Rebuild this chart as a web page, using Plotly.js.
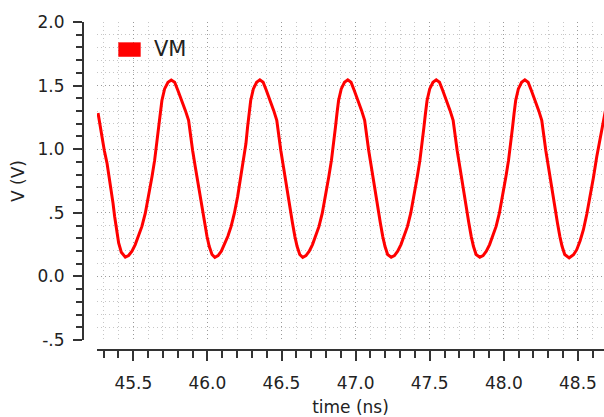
<!DOCTYPE html>
<html><head><meta charset="utf-8">
<script src="https://cdn.plot.ly/plotly-3.0.1.min.js"></script>
<style>html,body{margin:0;padding:0;background:#fff}#chart{width:604px;height:417px}</style>
</head><body><div id="chart"></div>
<script>
const time = [
  45.262,45.277,45.293,45.304,45.323,45.338,45.352,45.363,45.374,45.385,45.401,45.419,
  45.446,45.468,45.491,45.513,45.536,45.558,45.581,45.603,45.626,45.644,45.660,45.671,45.682,45.693,45.711,45.734,
  45.756,45.779,45.801,45.828,45.851,45.873,45.884,45.900,45.918,45.936,45.952,45.967,45.981,45.997,46.012,46.031,
  46.050,46.072,46.094,46.116,46.138,46.160,46.182,46.204,46.226,46.244,46.260,46.271,46.281,46.292,46.310,46.332,
  46.354,46.376,46.398,46.424,46.447,46.468,46.479,46.495,46.513,46.530,46.546,46.561,46.574,46.590,46.605,46.623,
  46.643,46.665,46.687,46.709,46.731,46.753,46.775,46.797,46.819,46.837,46.853,46.864,46.874,46.885,46.903,46.925,
  46.947,46.969,46.991,47.017,47.040,47.061,47.072,47.088,47.106,47.123,47.139,47.154,47.167,47.183,47.198,47.216,
  47.240,47.262,47.284,47.306,47.328,47.350,47.372,47.394,47.416,47.434,47.450,47.461,47.471,47.482,47.500,47.522,
  47.544,47.566,47.588,47.614,47.637,47.658,47.669,47.685,47.703,47.720,47.736,47.751,47.764,47.780,47.795,47.813,
  47.838,47.860,47.882,47.904,47.926,47.948,47.970,47.992,48.014,48.032,48.048,48.059,48.069,48.080,48.098,48.120,
  48.142,48.164,48.186,48.212,48.235,48.256,48.267,48.283,48.301,48.318,48.334,48.349,48.362,48.378,48.393,48.411,
  48.441,48.470,48.492,48.515,48.537,48.560,48.582,48.605,48.627,48.650,48.671,48.685
];
const vm = [
  1.284,1.174,1.083,0.992,0.888,0.784,0.680,0.576,0.471,0.367,0.263,0.190,
  0.151,0.164,0.198,0.250,0.315,0.393,0.497,0.628,0.784,0.914,1.044,1.174,1.279,1.383,1.474,1.526,
  1.544,1.526,1.461,1.383,1.305,1.227,1.122,0.992,0.862,0.732,0.628,0.523,0.419,0.315,0.237,0.172,
  0.150,0.164,0.198,0.250,0.315,0.393,0.497,0.628,0.784,0.914,1.044,1.174,1.279,1.383,1.474,1.526,
  1.545,1.526,1.461,1.383,1.305,1.227,1.122,0.992,0.862,0.732,0.628,0.523,0.419,0.315,0.237,0.172,
  0.150,0.164,0.198,0.250,0.315,0.393,0.497,0.628,0.784,0.914,1.044,1.174,1.279,1.383,1.474,1.526,
  1.545,1.526,1.461,1.383,1.305,1.227,1.122,0.992,0.862,0.732,0.628,0.523,0.419,0.315,0.237,0.172,
  0.150,0.164,0.198,0.250,0.315,0.393,0.497,0.628,0.784,0.914,1.044,1.174,1.279,1.383,1.474,1.526,
  1.545,1.526,1.461,1.383,1.305,1.227,1.122,0.992,0.862,0.732,0.628,0.523,0.419,0.315,0.237,0.172,
  0.150,0.164,0.198,0.250,0.315,0.393,0.497,0.628,0.784,0.914,1.044,1.174,1.279,1.383,1.474,1.526,
  1.545,1.526,1.461,1.383,1.305,1.227,1.122,0.992,0.862,0.732,0.628,0.523,0.419,0.315,0.237,0.172,
  0.146,0.170,0.210,0.280,0.367,0.490,0.627,0.780,0.940,1.080,1.213,1.300
];
const seriesName = 'VM';
const yTickVals = [-0.5, 0, 0.5, 1.0, 1.5, 2.0];
const yTickText = ['-.5', '0.0', '.5', '1.0', '1.5', '2.0'];
const xTickVals = [45.5, 46.0, 46.5, 47.0, 47.5, 48.0, 48.5];
const xTickText = ['45.5', '46.0', '46.5', '47.0', '47.5', '48.0', '48.5'];

const axisColor = '#333333';
const textColor = '#222222';
const fontFam = 'DejaVu Sans, sans-serif';

const trace = {
  x: time, y: vm, type: 'scatter', mode: 'lines', name: seriesName,
  line: {color: '#ff0000', width: 3}, showlegend: false, hoverinfo: 'skip'
};

const layout = {
  width: 604, height: 417,
  margin: {l: 83, r: 0, t: 22, b: 67, pad: 0},
  paper_bgcolor: '#ffffff', plot_bgcolor: '#ffffff',
  showlegend: false,
  xaxis: {
    domain: [14/521, 1], anchor: 'free', position: 0,
    range: [45.255, 48.676],
    tickmode: 'array', tickvals: xTickVals, ticktext: xTickText,
    ticks: 'outside', ticklen: 10, tickwidth: 2, tickcolor: axisColor,
    showline: true, linecolor: axisColor, linewidth: 2,
    showgrid: true, gridcolor: '#999999', griddash: '1px,3px', gridwidth: 1,
    zeroline: false,
    tickfont: {family: fontFam, size: 17, color: textColor},
    ticklabelstandoff: 8,
    minor: {tick0: 0, dtick: 0.1, ticks: 'outside', ticklen: 7, tickwidth: 2, tickcolor: axisColor,
            showgrid: true, gridcolor: '#c6c6c6', griddash: '1px,3px', gridwidth: 1},
    title: {text: 'time (ns)', font: {family: fontFam, size: 17, color: textColor}, standoff: 8}
  },
  yaxis: {
    domain: [10/328, 1], anchor: 'free', position: 0,
    range: [-0.5, 2.0],
    tickmode: 'array', tickvals: yTickVals, ticktext: yTickText,
    ticks: 'outside', ticklen: 9, tickwidth: 2, tickcolor: axisColor,
    showline: true, linecolor: axisColor, linewidth: 2,
    showgrid: true, gridcolor: '#999999', griddash: '1px,3px', gridwidth: 1,
    zeroline: false,
    tickfont: {family: fontFam, size: 17, color: textColor},
    ticklabelstandoff: 5,
    minor: {tick0: 0, dtick: 0.1, ticks: 'outside', ticklen: 6, tickwidth: 2, tickcolor: axisColor,
            showgrid: true, gridcolor: '#c6c6c6', griddash: '1px,3px', gridwidth: 1},
    title: {text: 'V (V)', font: {family: fontFam, size: 17, color: textColor}, standoff: 8}
  },
  shapes: [{
    type: 'rect', xref: 'paper', yref: 'paper',
    x0: 0.0678, x1: 0.1107, y0: 0.894, y1: 0.938,
    fillcolor: '#ff0000', line: {width: 0}
  }],
  annotations: [{
    text: seriesName, xref: 'paper', yref: 'paper', x: 0.1319, y: 0.918,
    xanchor: 'left', yanchor: 'middle', showarrow: false,
    font: {family: fontFam, size: 21, color: textColor}
  }]
};

Plotly.newPlot('chart', [trace], layout, {staticPlot: true, displayModeBar: false});
</script>
</body></html>
